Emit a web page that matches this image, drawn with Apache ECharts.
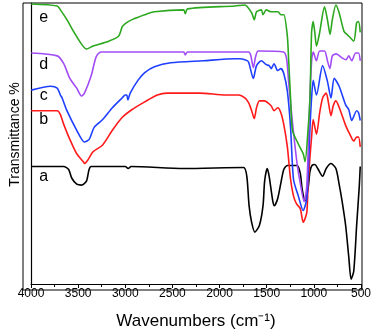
<!DOCTYPE html>
<html lang="en">
<head>
    <meta charset="UTF-8">
    <title>FTIR</title>
    <script src="https://cdn.jsdelivr.net/npm/echarts@6/dist/echarts.min.js"></script>
    <style>
        body { margin: 0; background: #fff; }
    </style>
</head>
<body>
    <div id="main" style="width: 374px; height: 335px"></div>
    <script>
        // wavenumber (cm-1) and transmittance (arbitrary units)
        var wnA = [3997, 3653, 3601, 3567, 3515, 3464, 3412, 3384, 3361, 3000, 2969, 2938, 2381, 1745, 1711, 1687, 1660, 1626, 1577, 1539, 1522, 1495, 1474, 1436, 1419, 1384, 1350, 1319, 1281, 1178, 1144, 1124, 1093, 1062, 1041, 1020, 990, 959, 907, 869, 818, 766, 732, 701, 663, 629, 605, 577, 546, 518, 508];
        var tA  = [120, 120, 117, 108, 102, 101, 105, 117, 120, 120, 118, 120, 118, 119, 110, 80, 63, 53, 60, 80, 105, 118, 110, 85, 80, 87, 103, 117, 121, 121, 113, 97, 85, 97, 115, 121, 122, 118, 110, 118, 123, 118, 102, 85, 60, 27, 5, 13, 60, 100, 120];

        var wnB = [3997, 3722, 3688, 3653, 3585, 3515, 3446, 3433, 3395, 3343, 3240, 3137, 3034, 2931, 2794, 2660, 2557, 2209, 1938, 1797, 1732, 1691, 1660, 1632, 1608, 1577, 1526, 1453, 1422, 1384, 1350, 1319, 1281, 1247, 1216, 1185, 1144, 1113, 1075, 1062, 1041, 1024, 1007, 972, 938, 907, 869, 845, 818, 794, 766, 722, 663, 619, 577, 546, 526, 508];
        var tB  = [177, 177, 173, 163, 147, 133, 125, 123, 127, 135, 142, 157, 170, 178, 186, 193, 195, 195, 193, 193, 190, 185, 177, 169, 180, 187, 187, 182, 177, 180, 175, 163, 140, 107, 90, 82, 77, 63, 73, 100, 130, 150, 168, 153, 175, 190, 195, 185, 172, 182, 187, 178, 162, 153, 146, 150, 150, 140];

        var wnC = [3997, 3791, 3722, 3688, 3670, 3619, 3515, 3433, 3381, 3330, 3240, 3137, 3034, 3000, 2984, 2972, 2948, 2866, 2794, 2691, 2518, 2175, 1835, 1783, 1732, 1694, 1642, 1608, 1557, 1505, 1474, 1453, 1422, 1384, 1350, 1319, 1281, 1247, 1216, 1165, 1113, 1075, 1057, 1041, 1024, 1007, 972, 907, 856, 818, 784, 732, 663, 629, 598, 546, 526, 508];
        var tC  = [198, 202, 200, 193, 190, 177, 157, 145, 148, 160, 168, 180, 190, 193, 193, 188, 195, 208, 216, 222, 226, 228, 230, 230, 229, 227, 210, 223, 228, 224, 223, 220, 225, 218, 220, 215, 197, 160, 107, 90, 75, 87, 120, 160, 190, 208, 193, 223, 207, 190, 210, 202, 183, 178, 167, 177, 175, 167];

        var wnD = [3997, 3722, 3653, 3588, 3515, 3464, 3433, 3361, 3309, 3258, 3000, 2381, 2364, 2340, 1694, 1670, 1642, 1618, 1590, 1320, 1289, 1268, 1247, 1216, 1178, 1144, 1103, 1075, 1053, 1038, 1022, 1005, 974, 938, 887, 856, 830, 804, 763, 701, 660, 629, 598, 557, 526, 508];
        var tD  = [236, 233, 225, 210, 200, 192, 195, 213, 232, 237, 237, 237, 234, 237, 237, 234, 221, 232, 238, 237, 230, 207, 185, 155, 123, 103, 84, 100, 160, 200, 230, 237, 228, 238, 238, 228, 220, 233, 235, 231, 229, 233, 228, 236, 236, 228];

        var wnE = [3997, 3722, 3688, 3619, 3549, 3464, 3412, 3343, 3175, 3072, 3031, 3000, 2928, 2794, 2691, 2381, 2364, 2340, 1835, 1732, 1660, 1632, 1608, 1557, 1539, 1505, 1453, 1381, 1350, 1319, 1281, 1268, 1247, 1227, 1165, 1113, 1093, 1062, 1041, 1024, 1007, 990, 972, 938, 887, 856, 828, 804, 766, 732, 680, 649, 629, 577, 546, 526, 508];
        var tE  = [286, 284, 280, 270, 258, 245, 240, 243, 248, 253, 263, 266, 270, 275, 278, 280, 276, 281, 284, 285, 277, 270, 278, 280, 275, 280, 278, 278, 275, 275, 253, 230, 190, 157, 143, 133, 125, 157, 190, 257, 268, 257, 243, 257, 283, 270, 255, 270, 285, 277, 258, 255, 253, 248, 267, 268, 257];

        var names = ['a', 'b', 'c', 'd', 'e'];
        var colors = ['#000000', '#ff1a1a', '#1f3fff', '#a24cf5', '#2ca81f'];
        var wns = [wnA, wnB, wnC, wnD, wnE];
        var ts = [tA, tB, tC, tD, tE];
        // where the curve letters sit
        var labelWn = 3865;
        var labelT = [110, 168, 192, 224, 272];

        var series = [];
        for (var i = 0; i < names.length; i++) {
            var pts = [];
            for (var j = 0; j < wns[i].length; j++) {
                pts.push([wns[i][j], ts[i][j]]);
            }
            series.push({
                name: names[i],
                type: 'line',
                data: pts,
                smooth: 0.25,
                symbol: 'none',
                lineStyle: { color: colors[i], width: 1.6 },
                markPoint: {
                    symbol: 'circle',
                    symbolSize: 0,
                    label: {
                        show: true,
                        formatter: names[i],
                        color: '#000',
                        fontSize: 16,
                        fontFamily: 'Liberation Sans'
                    },
                    data: [{ coord: [labelWn, labelT[i]] }]
                }
            });
        }

        echarts.init(document.getElementById('main')).setOption({
            animation: false,
            grid: { left: 23, right: 12, top: 3, bottom: 45 },
            xAxis: {
                type: 'value',
                inverse: true,
                min: 500,
                max: 4000,
                interval: 500,
                name: 'Wavenumbers (cm\u207B\u00B9)',
                nameLocation: 'middle',
                nameGap: 29,
                nameTextStyle: { fontSize: 17, fontFamily: 'Liberation Sans', color: '#000' },
                axisLine: { lineStyle: { color: '#000', width: 1.2 } },
                axisTick: { inside: false, length: 4, lineStyle: { color: '#000' } },
                minorTick: { show: true, splitNumber: 2, length: 3, lineStyle: { color: '#000' } },
                axisLabel: {
                    fontSize: 12, fontFamily: 'Liberation Sans', color: '#000', margin: 4,
                    formatter: function (v) { return String(v); }
                },
                splitLine: { show: false }
            },
            yAxis: {
                type: 'value',
                min: 0,
                max: 287,
                name: 'Transmittance %',
                nameLocation: 'middle',
                nameGap: 9,
                nameTextStyle: { fontSize: 14, fontFamily: 'Liberation Sans', color: '#000', padding: [0, 0, 0, 18] },
                axisLine: { lineStyle: { color: '#000', width: 1.2 } },
                axisTick: { show: false },
                axisLabel: { show: false },
                splitLine: { show: false }
            },
            graphic: [{
                type: 'rect',
                shape: { x: 23, y: 3, width: 339, height: 287 },
                style: { fill: 'none', stroke: '#000', lineWidth: 1 },
                silent: true
            }],
            series: series
        });
    </script>
</body>
</html>
